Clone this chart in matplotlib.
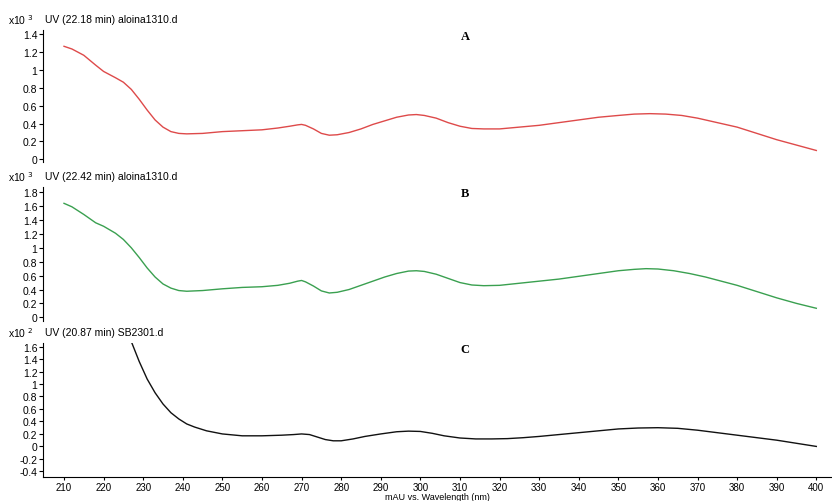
import matplotlib.pyplot as plt

plt.rcParams['font.family'] = ['Liberation Sans', 'DejaVu Sans']

# Espectros UV (nm, valor x10^n)
wl_a = [210, 212, 215, 218, 220, 223, 225, 227, 229, 231, 233, 235, 237, 239, 241, 245, 250, 255, 260, 264,
        267, 269, 270, 271, 273, 275, 277, 279, 282, 285, 288, 291, 294, 297, 299, 301, 304, 307, 310,
        313, 316, 320, 325, 330, 335, 340, 345, 350, 354, 358, 362, 366, 370, 375, 380, 385, 390, 395, 400]
uv_a = [1.26, 1.23, 1.16, 1.05, 0.98, 0.91, 0.86, 0.78, 0.67, 0.55, 0.44, 0.36, 0.31, 0.29, 0.285, 0.29, 0.31, 0.32, 0.33, 0.35,
        0.37, 0.385, 0.39, 0.38, 0.34, 0.29, 0.27, 0.275, 0.30, 0.34, 0.39, 0.43, 0.47, 0.495, 0.50, 0.49, 0.46, 0.41, 0.37,
        0.345, 0.34, 0.34, 0.36, 0.38, 0.41, 0.44, 0.47, 0.49, 0.505, 0.51, 0.505, 0.49, 0.46, 0.41, 0.36, 0.29, 0.22, 0.16, 0.10]

wl_b = [210, 212, 215, 218, 220, 223, 225, 227, 229, 231, 233, 235, 237, 239, 241, 245, 250, 255, 260, 264,
        267, 269, 270, 271, 273, 275, 277, 279, 282, 285, 288, 291, 294, 297, 299, 301, 304, 307, 310,
        313, 316, 320, 325, 330, 335, 340, 345, 350, 354, 357, 360, 364, 368, 372, 376, 380, 385, 390, 395, 400]
uv_b = [1.64, 1.59, 1.48, 1.36, 1.31, 1.21, 1.12, 1.00, 0.86, 0.71, 0.58, 0.48, 0.42, 0.385, 0.375, 0.385, 0.41, 0.43, 0.44, 0.46,
        0.49, 0.52, 0.53, 0.51, 0.45, 0.38, 0.35, 0.36, 0.40, 0.46, 0.52, 0.58, 0.63, 0.665, 0.67, 0.66, 0.62, 0.56, 0.50,
        0.465, 0.455, 0.46, 0.49, 0.52, 0.55, 0.59, 0.63, 0.67, 0.69, 0.70, 0.695, 0.67, 0.63, 0.58, 0.52, 0.46, 0.37, 0.28, 0.20, 0.13]

wl_c = [225, 227, 229, 231, 233, 235, 237, 239, 241, 243, 246, 250, 255, 260, 265, 268, 270, 272, 274, 276, 278,
        280, 283, 286, 290, 294, 297, 300, 303, 306, 310, 314, 318, 322, 326, 330, 335, 340, 345, 350, 355, 360,
        365, 370, 375, 380, 385, 390, 395, 400]
uv_c = [2.0, 1.68, 1.36, 1.08, 0.86, 0.68, 0.54, 0.44, 0.36, 0.31, 0.25, 0.20, 0.17, 0.17, 0.18, 0.19, 0.20, 0.19, 0.15, 0.11, 0.09,
        0.09, 0.12, 0.16, 0.20, 0.235, 0.245, 0.24, 0.21, 0.17, 0.135, 0.12, 0.12, 0.125, 0.14, 0.16, 0.19, 0.22, 0.25, 0.28, 0.295, 0.30,
        0.29, 0.26, 0.22, 0.18, 0.14, 0.10, 0.05, 0.0]

ticks_a = [0, 0.2, 0.4, 0.6, 0.8, 1, 1.2, 1.4]
ticks_b = [0, 0.2, 0.4, 0.6, 0.8, 1, 1.2, 1.4, 1.6, 1.8]
ticks_c = [-0.4, -0.2, 0, 0.2, 0.4, 0.6, 0.8, 1, 1.2, 1.4, 1.6]
x_ticks = list(range(210, 401, 10))

headers = ['UV (22.18 min) aloina1310.d', 'UV (22.42 min) aloina1310.d', 'UV (20.87 min) SB2301.d']
exps = ['3', '3', '2']
letters = ['A', 'B', 'C']


def fmt(v):
    s = ('%.1f' % v)
    return s[:-2] if s.endswith('.0') else s


fig = plt.figure(figsize=(8.32, 5.02), dpi=100)

panels = [
    (wl_a, uv_a, '#de4a4a', ticks_a, (-0.03, 1.44), [0.0517, 0.675, 0.948, 0.263]),
    (wl_b, uv_b, '#3aa050', ticks_b, (-0.05, 1.875), [0.0517, 0.359, 0.948, 0.2665]),
    (wl_c, uv_c, '#111111', ticks_c, (-0.49, 1.66), [0.0517, 0.0478, 0.948, 0.2673]),
]

for i, (x, y, col, yt, ylim, pos) in enumerate(panels):
    ax = fig.add_axes(pos)
    ax.plot(x, y, color=col, lw=1.0)
    ax.set_xlim(204.7, 403.9)
    ax.set_ylim(*ylim)
    ax.set_yticks(yt)
    ax.set_yticklabels([fmt(v) for v in yt])
    ax.tick_params(axis='y', labelsize=7.5, length=3, width=0.8, pad=1)
    for s in ['top', 'right']:
        ax.spines[s].set_visible(False)
    ax.spines['left'].set_linewidth(0.8)
    if i < 2:
        ax.spines['bottom'].set_visible(False)
        ax.set_xticks([])
    else:
        ax.spines['bottom'].set_linewidth(0.8)
        ax.set_xticks(x_ticks)
        ax.tick_params(axis='x', labelsize=7, length=2.5, width=0.8, pad=1)
        ax.set_xlabel('mAU vs. Wavelength (nm)', fontsize=6.5, labelpad=0)

    top_px = (1 - pos[1] - pos[3]) * 502
    hy = 1 - (top_px - 11) / 502
    fig.text(8 / 832, hy, r'x10 $^{%s}$' % exps[i], fontsize=7.5, va='center')
    fig.text(45 / 832, hy, headers[i], fontsize=7.5, va='center')
    fig.text(465 / 832, 1 - (top_px + 6) / 502, letters[i], fontsize=9, fontweight='bold',
             family='Liberation Serif', ha='center', va='center')

fig.savefig('out.png', dpi=100)
